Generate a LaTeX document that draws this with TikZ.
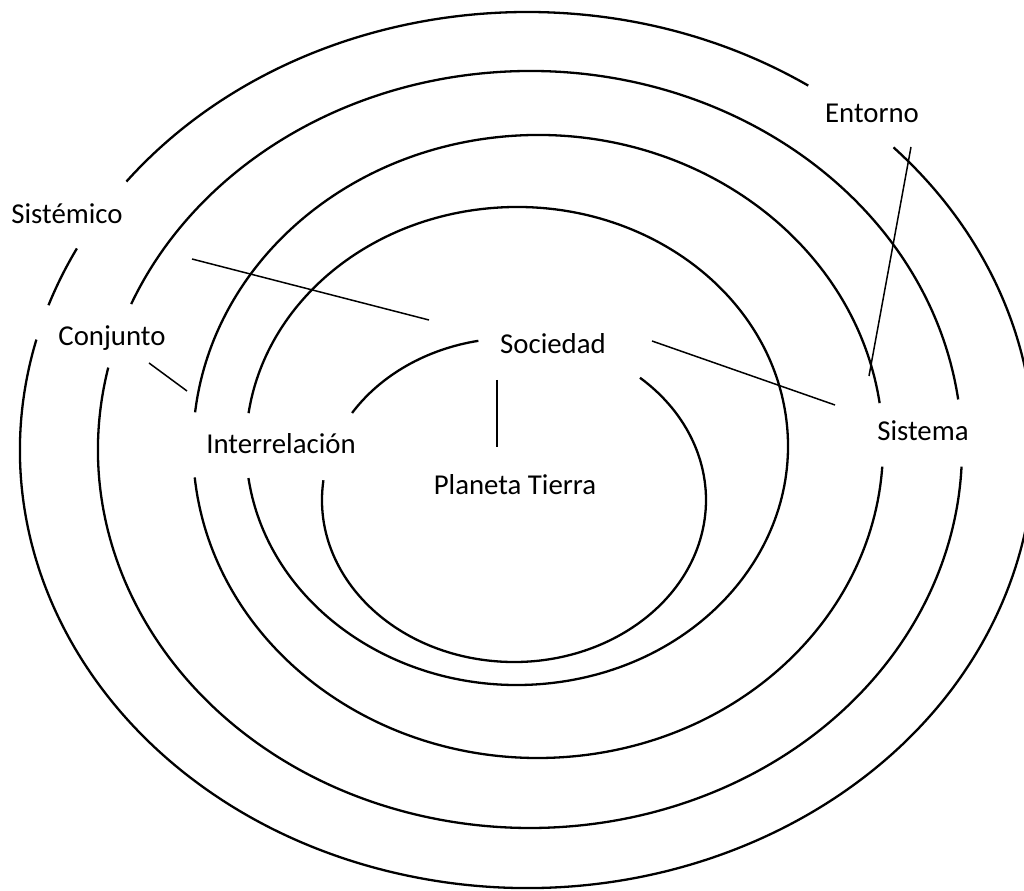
\documentclass[tikz,border=0pt]{standalone}
\usepackage{fontspec}
\setmainfont{Carlito}
\begin{document}
\begin{tikzpicture}[x=0.5pt,y=0.5pt,
    ring/.style={line width=1.15pt},
    link/.style={line width=0.75pt},
    lbl/.style={font=\fontsize{14.4}{17}\selectfont,inner sep=0pt,anchor=base}]
    \useasboundingbox (0,0) rectangle (1024,890);
    \clip (0,0) rectangle (1024,890);
    % rings, broken where a label sits: cx/cy/rx/ry/start/end
    \foreach \cx/\cy/\rx/\ry/\a/\b in {527/440/507/438/56.3/142.2,
        527/440/507/438/152.6/160.7, 527/440/507/438/165.4/403.7,%outer
        530/440.5/432/378.5/7.6/157.4, 530/440.5/432/378.5/167.5/357.4,
        538/443.5/345/311.5/8/173.7, 538/443.5/345/311.5/185.7/356.3,
        517/444/271/239/187.7/532.1,
        514/390/192/162/100.7/147.5, 514/390/192/162/173/409}{
        \draw[ring] (\cx,\cy) ++({\a}:{\rx} and {\ry})
            arc[start angle=\a,end angle=\b,x radius=\rx,y radius=\ry];
    }
    \node[lbl] (sistemico) at (67,666) {Sistémico};
    \node[lbl] (conjunto) at (112,544) {Conjunto};
    \node[lbl] (interrel) at (281,436) {Interrelación};
    \node[lbl] (sociedad) at (553,536) {Sociedad};
    \node[lbl] (planeta) at (515,395) {Planeta Tierra};
    \node[lbl] (entorno) at (872,767) {Entorno};
    \node[lbl] (sistema) at (923,449) {Sistema};
    % free ends of the connectors
    \coordinate (sistemico-e) at (192,631);
    \coordinate (sociedad-w) at (429,570);
    \coordinate (conjunto-e) at (149,527);
    \coordinate (interrel-n) at (187,499);
    \coordinate (sociedad-s) at (497,510);
    \coordinate (planeta-n) at (497,443);
    \coordinate (sociedad-e) at (652,549);
    \coordinate (sistema-w) at (835,485);
    \coordinate (entorno-s) at (911,743);
    \coordinate (sistema-n) at (869,514);
    \draw[link] (sistemico-e) -- (sociedad-w);
    \draw[link] (conjunto-e) -- (interrel-n);
    \draw[link] (sociedad-s) -- (planeta-n);
    \draw[link] (sociedad-e) -- (sistema-w);
    \draw[link] (entorno-s) -- (sistema-n);
\end{tikzpicture}
\end{document}
